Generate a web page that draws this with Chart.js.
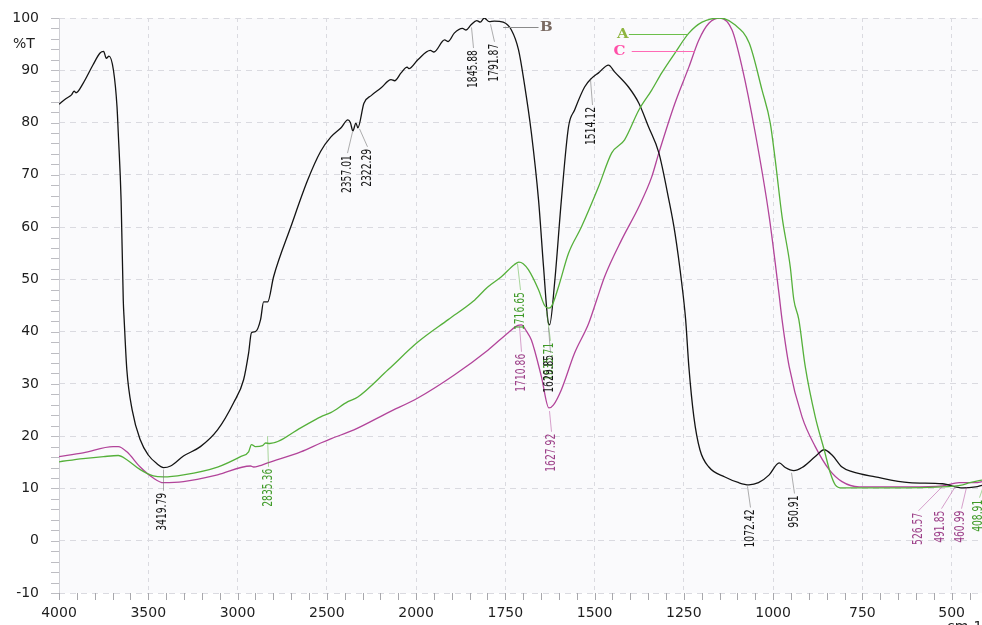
<!DOCTYPE html>
<html>
<head>
<meta charset="utf-8">
<script src="https://cdn.jsdelivr.net/npm/chart.js@4.4.1/dist/chart.umd.min.js"></script>
<style>
  html, body { margin: 0; padding: 0; background: #fff; }
</style>
</head>
<body>
<canvas id="c" width="982" height="625"></canvas>
<script>
// wavenumbers (cm-1) and %T
const wnA = [
  4000, 3865, 3750, 3668, 3620, 3545, 3472, 3415, 3303, 3112,
  2983, 2938, 2922, 2900, 2860, 2843, 2820, 2646, 2534, 2478,
  2382, 2326, 2157, 1995, 1910, 1840, 1800, 1761, 1725, 1712,
  1700, 1685, 1657, 1640, 1630, 1621, 1601, 1573, 1537, 1489,
  1452, 1416, 1376, 1340, 1312, 1275, 1236, 1199, 1149, 1107,
  1067, 1031, 1008, 994, 975, 952, 942, 928, 910, 882,
  857, 840, 826, 807, 714, 526, 469, 449, 415
]
const tA = [
  15.1, 15.7, 16.1, 16.3, 15.5, 13.6, 12.4, 12.2, 12.6, 14.1,
  16.1, 17.0, 18.4, 18.0, 18.2, 18.7, 18.6, 21.6, 23.7, 24.5,
  26.6, 27.5, 32.7, 38.0, 42.3, 45.8, 48.5, 50.5, 52.8, 53.3,
  53.0, 51.8, 48.0, 45.0, 44.5, 44.8, 48.6, 55.0, 60.0, 67.7,
  74.2, 76.7, 82.4, 86.2, 89.5, 93.3, 97.1, 99.2, 100.0, 98.7,
  95.2, 86.2, 79.9, 72.8, 62.0, 52.4, 46.1, 42.3, 33.3, 23.7,
  17.4, 13.0, 10.7, 10.1, 10.1, 10.3, 10.7, 11.1, 11.6
]

const wnB = [
  4000, 3960, 3930, 3915, 3905, 3865, 3810, 3770, 3750, 3735,
  3720, 3695, 3675, 3668, 3652, 3640, 3635, 3620, 3590, 3545,
  3500, 3450, 3415, 3375, 3303, 3208, 3112, 3022, 2966, 2938,
  2922, 2900, 2871, 2854, 2831, 2798, 2702, 2607, 2534, 2478,
  2420, 2382, 2368, 2354, 2337, 2326, 2292, 2250, 2197, 2140,
  2120, 2084, 2050, 2040, 1995, 1960, 1950, 1920, 1910, 1893,
  1870, 1860, 1846, 1830, 1820, 1809, 1795, 1781, 1756, 1733,
  1713, 1697, 1677, 1657, 1643, 1630, 1626, 1612, 1593, 1573,
  1556, 1528, 1508, 1489, 1461, 1444, 1405, 1376, 1349, 1320,
  1292, 1275, 1256, 1245, 1236, 1222, 1205, 1180, 1135, 1096,
  1068, 1041, 1011, 983, 966, 942, 919, 882, 857, 835,
  807, 779, 714, 619, 526, 469, 433, 415
]
const tB = [
  83.5, 84.6, 85.3, 86.0, 85.7, 87.5, 91.0, 93.3, 93.6, 92.3,
  92.7, 90.0, 83.0, 78.0, 65.0, 46.0, 42.3, 32.7, 25.0, 19.3,
  16.4, 14.7, 14.0, 14.3, 16.2, 18.0, 21.2, 26.4, 30.8, 35.9,
  39.8, 40.0, 42.3, 45.7, 45.7, 50.5, 60.0, 69.0, 74.5, 77.2,
  79.0, 80.5, 80.0, 78.4, 79.9, 79.0, 83.7, 85.2, 86.6, 88.2,
  88.0, 89.5, 90.6, 90.3, 92.0, 93.8, 93.5, 95.8, 95.5, 97.1,
  98.0, 97.7, 98.7, 99.5, 99.2, 100.0, 99.3, 99.4, 99.2, 97.7,
  93.9, 87.6, 78.0, 65.2, 52.4, 41.8, 41.3, 49.3, 65.2, 79.2,
  82.4, 86.8, 88.5, 89.5, 91.0, 89.7, 86.8, 83.7, 79.2, 74.2,
  65.2, 58.9, 49.3, 42.3, 33.3, 23.7, 17.4, 14.1, 12.2, 11.1,
  10.7, 11.1, 12.6, 14.9, 14.0, 13.4, 14.0, 16.1, 17.4, 16.4,
  14.1, 13.2, 12.2, 11.1, 10.9, 10.1, 10.3, 10.6
]

const wnC = [
  4000, 3865, 3697, 3668, 3620, 3545, 3472, 3415, 3303, 3112,
  2927, 2910, 2880, 2831, 2646, 2534, 2478, 2348, 2157, 1995,
  1893, 1798, 1742, 1715, 1705, 1690, 1677, 1649, 1628, 1615,
  1593, 1556, 1517, 1494, 1472, 1424, 1376, 1340, 1320, 1275,
  1236, 1208, 1180, 1149, 1115, 1087, 1050, 1011, 984, 975,
  955, 919, 882, 843, 807, 759, 619, 526, 479, 433,
  415
]
const tC = [
  16.1, 16.8, 18.0, 18.0, 17.0, 14.1, 12.0, 11.1, 11.3, 12.6,
  14.3, 14.1, 14.3, 14.9, 17.0, 18.7, 19.5, 21.2, 24.5, 27.3,
  31.7, 36.5, 39.8, 41.2, 41.3, 40.0, 38.4, 31.4, 25.4, 26.0,
  28.9, 35.9, 41.5, 46.1, 50.5, 57.6, 63.9, 69.6, 74.2, 83.7,
  90.6, 95.8, 99.0, 100.0, 97.7, 90.6, 78.0, 62.0, 47.5, 42.3,
  33.3, 23.7, 18.0, 13.6, 11.3, 10.3, 10.3, 10.5, 11.1, 11.1,
  11.3
]

const xTicks = [4000, 3500, 3000, 2500, 2000, 1750, 1500, 1250, 1000, 750, 500]
const xMin = 415
const xBreak = 2000   // below this the axis is drawn at double scale
const xStretch = 2

// peak labels: text is the wavenumber, where the leader starts on the curve,
// and where the rotated text sits (its x and the %T its foot is at)
const peakText = ['3419.79', '2835.36', '2357.01', '2322.29', '1845.88', '1791.87', '1514.12', '1716.65', '1710.86',
  '1635.71', '1629.85', '1627.92', '1072.42', '950.91', '526.57', '491.85', '460.99', '408.91']
const peakSeries = ['B', 'A', 'B', 'B', 'B', 'B', 'B', 'A', 'C', 'A', 'B', 'C', 'B', 'B', 'C', 'C', 'C', 'A']
const peakT = [13.6, 20.0, 78.2, 78.8, 98.2, 98.8, 88.2, 53.0, 41.0, 44.0, 40.8, 24.8, 10.4, 13.0, 10.4, 10.4, 10.2, 11.0]
const labelWn = [3419.79, 2830, 2387, 2275, 1840, 1781, 1508, 1708, 1705, 1626, 1626, 1621, 1065, 941, 593, 531, 475, 424]
const labelBase = [1.9, 6.5, 66.5, 67.7, 86.6, 87.8, 75.7, 40.3, 28.5, 30.6, 28.3, 13.2, -1.3, 2.5, -0.8, -0.4, -0.4, 1.7]

const legendName = ['B', 'A', 'C']
const legendT = [98.3, 96.9, 93.7]
const legendFrom = [1756, 1240, 1220]
const legendTo = [1657, 1404, 1396]
const legendAt = [1635, 1421, 1430]

const lineColor = { A: '#55b03a', B: '#141414', C: '#b2449a' }
const textColor = { A: '#3f9a28', B: '#141414', C: '#9c3f88' }
const leadColor = { A: 'rgba(85,176,58,0.5)', B: 'rgba(120,120,120,0.6)', C: 'rgba(178,68,154,0.5)' }
const legendText = { A: '#8db43e', B: '#7a6a62', C: '#ff4fa8' }
const legendLine = { A: '#6cbf4a', B: '#8a8a8a', C: '#ff6ab5' }

const pts = (xs, ys) => xs.map((x, i) => ({ x, y: ys[i] }))

class WaveScale extends Chart.LinearScale {
  buildTicks () { return xTicks.map(v => ({ value: v })) }
  _unit (v) { return v >= xBreak ? this.max - v : (this.max - xBreak) + xStretch * (xBreak - v) }
  getPixelForValue (v) { return this.left + this.width * this._unit(v) / this._unit(this.min) }
  getValueForPixel (p) {
    const u = (p - this.left) / this.width * this._unit(this.min)
    const head = this.max - xBreak
    return u <= head ? this.max - u : xBreak - (u - head) / xStretch
  }
}
WaveScale.id = 'wave'
WaveScale.defaults = {}
Chart.register(WaveScale)

const at = (chart, wn, t) => [chart.scales.x.getPixelForValue(wn), chart.scales.y.getPixelForValue(t)]

const decor = {
  id: 'decor',
  beforeDraw: (chart) => {
    const { ctx, chartArea: a } = chart
    ctx.save()
    ctx.fillStyle = '#fff'
    ctx.fillRect(0, 0, chart.width, chart.height)
    ctx.fillStyle = '#fafafc'
    ctx.fillRect(a.left, a.top, a.right - a.left, a.bottom - a.top)
    ctx.restore()
  },
  beforeDatasetsDraw: (chart) => {
    const { ctx, chartArea: a } = chart
    const xs = chart.scales.x
    const ys = chart.scales.y
    ctx.save()
    ctx.strokeStyle = '#cfcfd4'
    ctx.lineWidth = 1
    ctx.beginPath()
    ctx.moveTo(a.left + 0.5, a.top)
    ctx.lineTo(a.left + 0.5, a.bottom)
    ctx.stroke()
    // minor ticks along the bottom
    ctx.strokeStyle = '#a8a8ad'
    ctx.beginPath()
    for (let w = 4000; w >= xMin; w -= (w > xBreak ? 100 : 50)) {
      const x = Math.round(xs.getPixelForValue(w)) + 0.5
      ctx.moveTo(x, a.bottom)
      ctx.lineTo(x, a.bottom + 7)
    }
    ctx.stroke()
    // minor ticks on the left
    ctx.strokeStyle = '#bdbdc2'
    ctx.beginPath()
    for (let t = -10; t <= 100; t += 2) {
      const y = Math.round(ys.getPixelForValue(t)) + 0.5
      ctx.moveTo(a.left - 8, y)
      ctx.lineTo(a.left, y)
    }
    ctx.stroke()
    ctx.restore()
  },
  afterDatasetsDraw: (chart) => {
    const { ctx } = chart
    ctx.save()
    ctx.font = '14px "DejaVu Sans"'
    const sx = 38 / ctx.measureText('3419.79').width
    peakText.forEach((txt, i) => {
      const s = peakSeries[i]
      const [x0, y0] = at(chart, Number(txt), peakT[i])
      const [x1, y1] = at(chart, labelWn[i], labelBase[i])
      const yTop = y1 - ctx.measureText(txt).width * sx
      ctx.strokeStyle = leadColor[s]
      ctx.lineWidth = 1
      ctx.beginPath()
      ctx.moveTo(Math.round(x0) + 0.5, y0)
      ctx.lineTo(Math.round(x1) + 0.5, yTop - 2)
      ctx.stroke()
      ctx.save()
      ctx.translate(x1, y1)
      ctx.rotate(-Math.PI / 2)
      ctx.scale(sx, 1)
      ctx.fillStyle = textColor[s]
      ctx.textAlign = 'left'
      ctx.textBaseline = 'middle'
      ctx.fillText(txt, 0, 0)
      ctx.restore()
    })
    legendName.forEach((n, i) => {
      const [xa, y] = at(chart, legendFrom[i], legendT[i])
      const [xb] = at(chart, legendTo[i], legendT[i])
      const [xl] = at(chart, legendAt[i], legendT[i])
      ctx.strokeStyle = legendLine[n]
      ctx.lineWidth = 1.2
      ctx.beginPath()
      ctx.moveTo(xa, Math.round(y) + 0.5)
      ctx.lineTo(xb, Math.round(y) + 0.5)
      ctx.stroke()
      ctx.save()
      ctx.translate(xl, y)
      ctx.scale(1.25, 1)
      ctx.font = 'bold 12px "DejaVu Serif"'
      ctx.fillStyle = legendText[n]
      ctx.textAlign = 'center'
      ctx.textBaseline = 'middle'
      ctx.fillText(n, 0, 1)
      ctx.restore()
    })
    ctx.restore()
  },
  afterDraw: (chart) => {
    const { ctx } = chart
    ctx.save()
    ctx.font = '14px "DejaVu Sans"'
    ctx.fillStyle = '#222'
    ctx.textBaseline = 'middle'
    ctx.textAlign = 'left'
    ctx.fillText('%T', 13, 44)
    ctx.textBaseline = 'top'
    ctx.fillText('cm-1', 947, 620)
    ctx.restore()
  }
}

const series = [
  { label: 'A', data: pts(wnA, tA) },
  { label: 'B', data: pts(wnB, tB) },
  { label: 'C', data: pts(wnC, tC) }
]

const chart = new Chart(document.getElementById('c'), {
  type: 'line',
  data: {
    datasets: series.map(d => ({
      label: d.label,
      data: d.data,
      borderColor: lineColor[d.label],
      borderWidth: 1.3,
      pointRadius: 0,
      cubicInterpolationMode: 'monotone',
      fill: false
    }))
  },
  options: {
    responsive: false,
    animation: false,
    events: [],
    layout: { padding: { top: 18, right: 0, bottom: 0, left: 0 } },
    plugins: { legend: { display: false }, tooltip: { enabled: false } },
    scales: {
      x: {
        type: 'wave',
        min: xMin,
        max: 4000,
        grid: { color: '#dadae0', lineWidth: 1, drawTicks: false },
        border: { display: false, dash: [4, 4] },
        ticks: {
          autoSkip: false,
          maxRotation: 0,
          padding: 12,
          color: '#1e1e1e',
          font: { family: 'DejaVu Sans', size: 14 },
          callback: v => String(v)
        },
        afterFit: s => { s.height = 32 }
      },
      y: {
        min: -10,
        max: 100,
        grid: { color: '#dadae0', lineWidth: 1, drawTicks: false },
        border: { display: false, dash: [6, 5] },
        ticks: {
          stepSize: 10,
          padding: 20,
          color: '#1e1e1e',
          font: { family: 'DejaVu Sans', size: 14 }
        },
        afterFit: s => {
          s.width = 59
          s.paddingTop = 0
          s.paddingBottom = 0
        }
      }
    }
  },
  plugins: [decor]
})
</script>
</body>
</html>
